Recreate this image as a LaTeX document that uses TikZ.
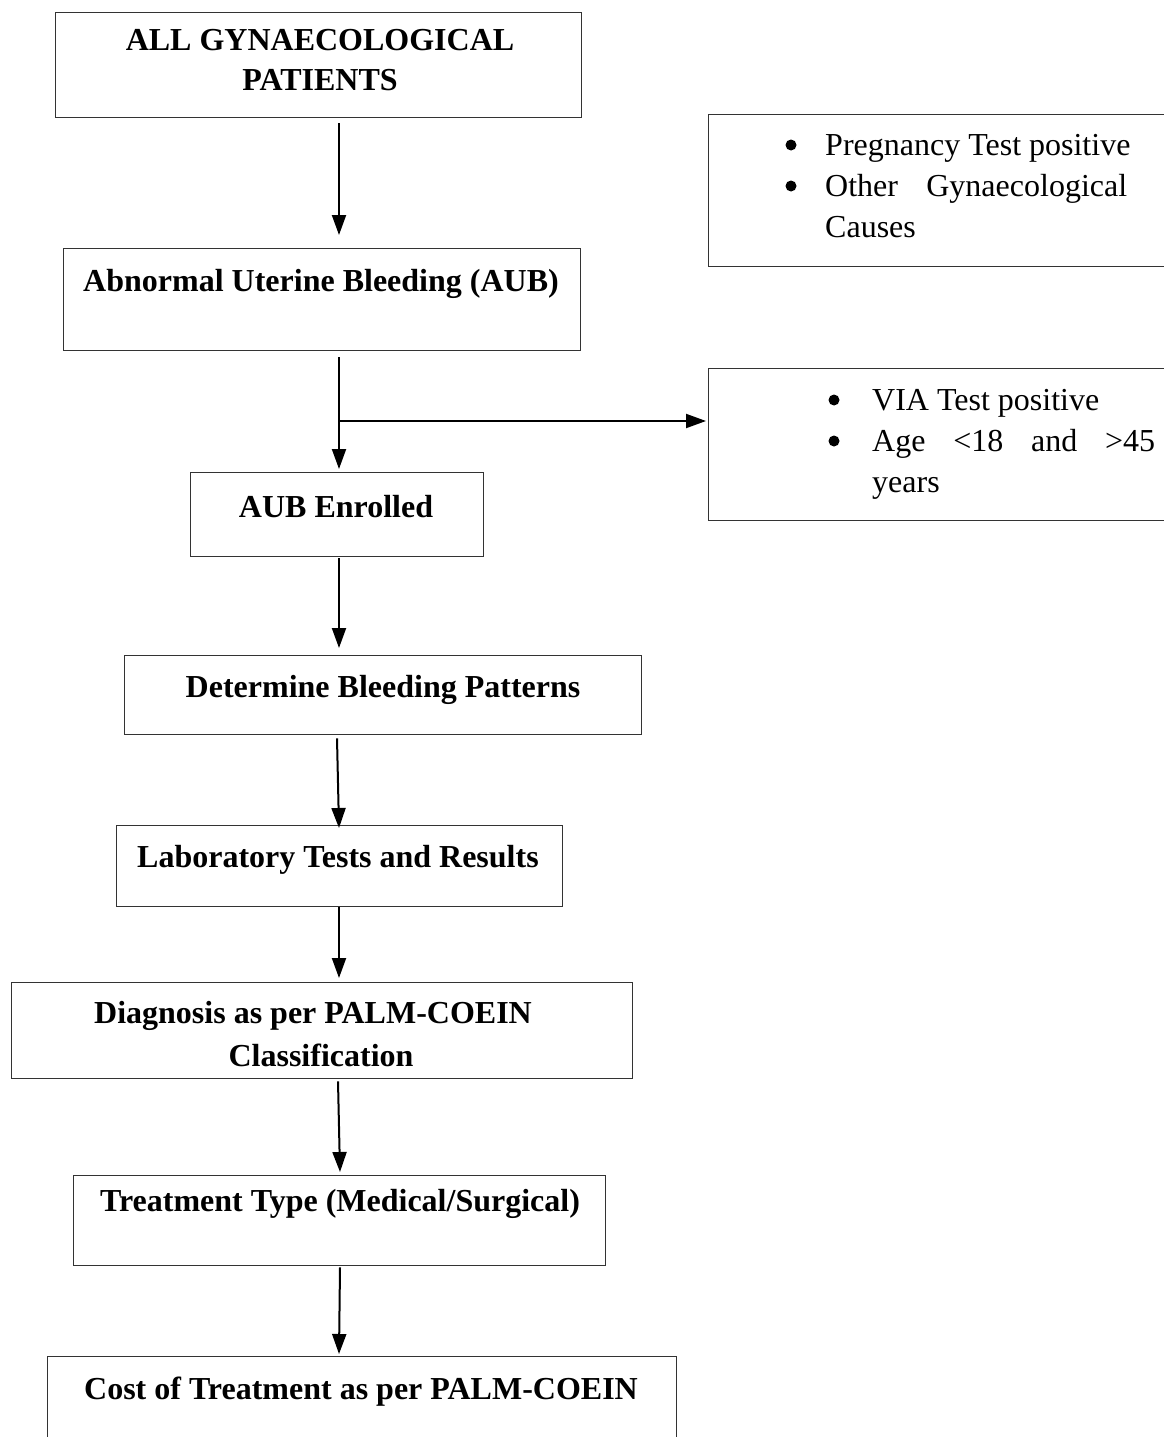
\documentclass[tikz,border=0pt]{standalone}
\usepackage{fontspec}
\setmainfont{Liberation Serif}
\usetikzlibrary{arrows.meta,calc}
\begin{document}
\begin{tikzpicture}[x=1pt,y=-1pt,
  box/.style={draw=black!80, line width=1.3pt, rectangle, inner sep=0pt, anchor=north west},
  btxt/.style={font=\fontsize{32}{40}\selectfont\bfseries, inner sep=0pt, anchor=base},
  rtxt/.style={font=\fontsize{32}{41}\selectfont, inner sep=0pt, anchor=base west},
  bul/.style={circle, fill=black, inner sep=0pt, minimum size=11pt},
  arr/.style={line width=2pt, -{Triangle[length=20pt,width=14pt]}}]
\useasboundingbox (0,0) rectangle (1164,1437);

% boxes
\node[box, minimum width=526pt, minimum height=105pt] (b1) at (55,12) {};
\node[box, minimum width=517pt, minimum height=102pt] (b2) at (63,248) {};
\node[box, minimum width=293pt, minimum height=84pt]  (b3) at (190,472) {};
\node[box, minimum width=517pt, minimum height=79pt]  (b4) at (124,655) {};
\node[box, minimum width=446pt, minimum height=81pt]  (b5) at (116,825) {};
\node[box, minimum width=621pt, minimum height=96pt]  (b6) at (11,982) {};
\node[box, minimum width=532pt, minimum height=90pt]  (b7) at (73,1175) {};
\node[box, minimum width=629pt, minimum height=120pt] (b8) at (47,1356) {};
\node[box, minimum width=480pt, minimum height=152pt] (ra) at (708,114) {};
\node[box, minimum width=480pt, minimum height=152pt] (rb) at (708,368) {};

% texts
\node[btxt] (t1a) at (320,51) {ALL GYNAECOLOGICAL};
\node[btxt] (t1b) at (320,90) {PATIENTS};
\node[btxt] (t2) at (321,291) {Abnormal Uterine Bleeding (AUB)};
\node[btxt] (t3) at (336,517) {AUB Enrolled};
\node[btxt] (t4) at (383,697) {Determine Bleeding Patterns};
\node[btxt] (t5) at (338,867) {Laboratory Tests and Results};
\node[btxt] (t6a) at (313,1023) {Diagnosis as per PALM-COEIN};
\node[btxt] (t6b) at (321,1066) {Classification};
\node[btxt] (t7) at (340,1211) {Treatment Type (Medical/Surgical)};
\node[btxt] (t8) at (361,1399) {Cost of Treatment as per PALM-COEIN};

\node[rtxt] (ta) at (825,155) {\begin{tabular}[t]{@{}l@{}}
Pregnancy Test positive\\
\makebox[302pt][s]{Other\hfill Gynaecological}\\
Causes
\end{tabular}};
\node[rtxt] (tb) at (872,410) {\begin{tabular}[t]{@{}l@{}}
VIA Test positive\\
\makebox[283pt][s]{Age\hfill <18\hfill and\hfill >45}\\
years
\end{tabular}};

% bullets
\node[bul] (ba1) at (791,145) {};
\node[bul] (ba2) at (791,186) {};
\node[bul] (bb1) at (834,400) {};
\node[bul] (bb2) at (834,441) {};

% arrow x positions
\coordinate (x337) at (337,0);
\coordinate (x338) at (338,0);
\coordinate (x339) at (339,0);
\coordinate (x340) at (340,0);

\draw[arr] ($(b1.south -| x339)+(0,5)$) -- ($(b2.north -| x339)+(0,-13)$);
\draw[arr] ($(b2.south -| x339)+(0,6)$) -- ($(b3.north -| x339)+(0,-3)$);
\coordinate (br) at (339,421);
\draw[arr] (br) -- ($(br -| rb.west)+(-2,0)$);
\draw[arr] ($(b3.south -| x339)+(0,1)$) -- ($(b4.north -| x339)+(0,-7)$);
\draw[arr] ($(b4.south -| x337)+(0,3)$) -- ($(b5.north -| x339)+(0,3)$);
\draw[arr] ($(b5.south -| x339)+(0,0)$) -- ($(b6.north -| x339)+(0,-4)$);
\draw[arr] ($(b6.south -| x338)+(0,2)$) -- ($(b7.north -| x340)+(0,-3)$);
\draw[arr] ($(b7.south -| x340)+(0,1)$) -- ($(b8.north -| x339)+(0,-2)$);
\end{tikzpicture}
\end{document}
